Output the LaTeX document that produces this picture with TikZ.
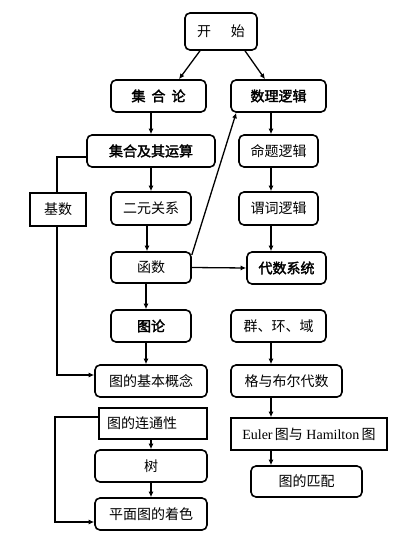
\documentclass[tikz,border=0pt]{standalone}
\usepackage{fontspec}
\setmainfont{Liberation Serif}
\newfontfamily\cjk{Noto Sans CJK SC}
\newfontfamily\cjkb[FakeBold=2.2]{Noto Sans CJK SC}
\usetikzlibrary{arrows.meta}
\begin{document}
\begin{tikzpicture}[x=1pt,y=-1pt,
  rbox/.style={draw, line width=1.6pt, rounded corners=5pt, inner sep=0pt, font=\fontsize{14}{16}\selectfont\cjk},
  sbox/.style={draw, line width=1.6pt, inner sep=0pt, font=\fontsize{14}{16}\selectfont\cjk},
  bbox/.style={rbox, font=\fontsize{14}{16}\selectfont\cjkb},
  arr/.style={line width=1.3pt, -{Latex[length=5.5pt,width=5pt]}},
  ln/.style={line width=1.3pt}]
\useasboundingbox[fill=white] (0,0) rectangle (415,548);
% nodes
\node[rbox, minimum width=72pt, minimum height=37pt] (start) at (221,31.5) {开\hspace{20pt}始};
\node[bbox, minimum width=95pt, minimum height=32pt] (jhl) at (158.5,96) {集\hspace{6pt}合\hspace{6pt}论};
\node[bbox, minimum width=95pt, minimum height=32pt] (sllj) at (278.5,96) {数理逻辑};
\node[bbox, minimum width=128pt, minimum height=32pt] (jhys) at (151,151) {集合及其运算};
\node[rbox, minimum width=79pt, minimum height=32pt] (mtlj) at (278.5,151) {命题逻辑};
\node[sbox, minimum width=56pt, minimum height=33pt] (jishu) at (58,209.5) {基数};
\node[rbox, minimum width=80pt, minimum height=33pt] (eygx) at (151,208.5) {二元关系};
\node[rbox, minimum width=79pt, minimum height=33pt] (wclj) at (278.5,208.5) {谓词逻辑};
\node[rbox, minimum width=80pt, minimum height=31pt] (hs) at (151,267.5) {函数};
\node[bbox, minimum width=79pt, minimum height=32pt] (dsxt) at (286.5,268) {代数系统};
\node[bbox, minimum width=80pt, minimum height=32pt] (tl) at (151,326) {图论};
\node[rbox, minimum width=95pt, minimum height=32pt] (qhy) at (278.5,326) {群、环、域};
\node[rbox, minimum width=112pt, minimum height=32pt] (jbgn) at (151,381) {图的基本概念};
\node[rbox, minimum width=111pt, minimum height=32pt] (gybr) at (286.5,381) {格与布尔代数};
\node[sbox, minimum width=108pt, minimum height=31pt, text width=92pt, align=left] (ltx) at (153,423.5) {图的连通性};
\node[sbox, minimum width=156pt, minimum height=32pt, font=\fontsize{14}{16}\selectfont] (euler) at (309,434) {Euler\,{\cjk 图与} Hamilton\,{\cjk 图}};
\node[rbox, minimum width=112pt, minimum height=32pt] (shu) at (151,466) {树};
\node[rbox, minimum width=111pt, minimum height=31pt] (pp) at (306.5,481.5) {图的匹配};
\node[rbox, minimum width=112pt, minimum height=32pt] (zs) at (151,514) {平面图的着色};
% connectors
\draw[arr] ([xshift=-21pt]start.south) -- ([xshift=20.5pt]jhl.north);
\draw[arr] ([xshift=24pt]start.south) -- ([xshift=-13.5pt]sllj.north);
\draw[arr] (jhys.north |- jhl.south) -- (jhys.north);
\draw[arr] ([xshift=-7.5pt]sllj.south) -- ([xshift=-7.5pt]mtlj.north);
\draw[arr] (jhys.south) -- (eygx.north);
\draw[arr] ([xshift=-7.5pt]mtlj.south) -- ([xshift=-7.5pt]wclj.north);
\draw[arr] ([xshift=-4pt]eygx.south) -- ([xshift=-4pt]hs.north);
\draw[arr] ([xshift=-7.5pt]wclj.south) -- ([xshift=-15.5pt]dsxt.north);
\draw[arr] ([yshift=12.5pt]hs.east) -- ([xshift=6pt]sllj.south west);
\draw[arr] (hs.east) -- (dsxt.west);
\draw[arr] ([xshift=-5pt]hs.south) -- ([xshift=-5pt]tl.north);
\draw[ln] ([yshift=-6pt]jhys.west) -| ([xshift=-1pt]jishu.north);
\draw[arr] ([xshift=-1pt]jishu.south) |- ([yshift=6pt]jbgn.west);
\draw[arr] ([xshift=-5pt]tl.south) -- ([xshift=-5pt]jbgn.north);
\draw[arr] ([xshift=-7.5pt]qhy.south) -- ([xshift=-15.5pt]gybr.north);
\draw[arr] ([xshift=-15.5pt]gybr.south) -- ([xshift=-38pt]euler.north);
\draw[arr] ([xshift=-38pt]euler.south) -- ([xshift=-35.5pt]pp.north);
\draw[arr] ([xshift=-2pt]ltx.south) -- (shu.north);
\draw[arr] (shu.south) -- (zs.north);
\coordinate (lc) at (55,417);
\draw[arr] ([yshift=6.5pt]ltx.west) -- (lc) |- ([yshift=-8pt]zs.west);
\end{tikzpicture}
\end{document}
